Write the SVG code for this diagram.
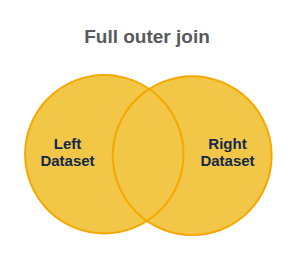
<svg xmlns="http://www.w3.org/2000/svg" width="300" height="255" viewBox="0 0 300 255">
<style>
.title{font-family:"Liberation Sans",Arial,sans-serif;font-weight:bold;font-size:19px;fill:#58595B;text-anchor:middle}
.lbl{font-family:"Liberation Sans",Arial,sans-serif;font-weight:bold;font-size:15px;fill:#14284B;text-anchor:middle}
.fill{fill:#F2C646;stroke:none}
.ring{fill:none;stroke:#F5A800;stroke-width:2}
</style>
<rect width="300" height="255" fill="#FFFFFF"/>
<text class="title" x="147" y="43">Full outer join</text>
<g id="fills">
<circle class="fill" cx="104.3" cy="154.2" r="79.2"/>
<circle class="fill" cx="192.2" cy="155.7" r="79.4"/>
</g>
<g id="left-dataset">
<circle class="ring" cx="104.3" cy="154.2" r="79.2"/>
<text class="lbl" x="67.5" y="149">Left</text>
<text class="lbl" x="67.5" y="165.5">Dataset</text>
</g>
<g id="right-dataset">
<circle class="ring" cx="192.2" cy="155.7" r="79.4"/>
<text class="lbl" x="227.5" y="149">Right</text>
<text class="lbl" x="227.5" y="165.5">Dataset</text>
</g>
<g id="connectors"/>
</svg>
